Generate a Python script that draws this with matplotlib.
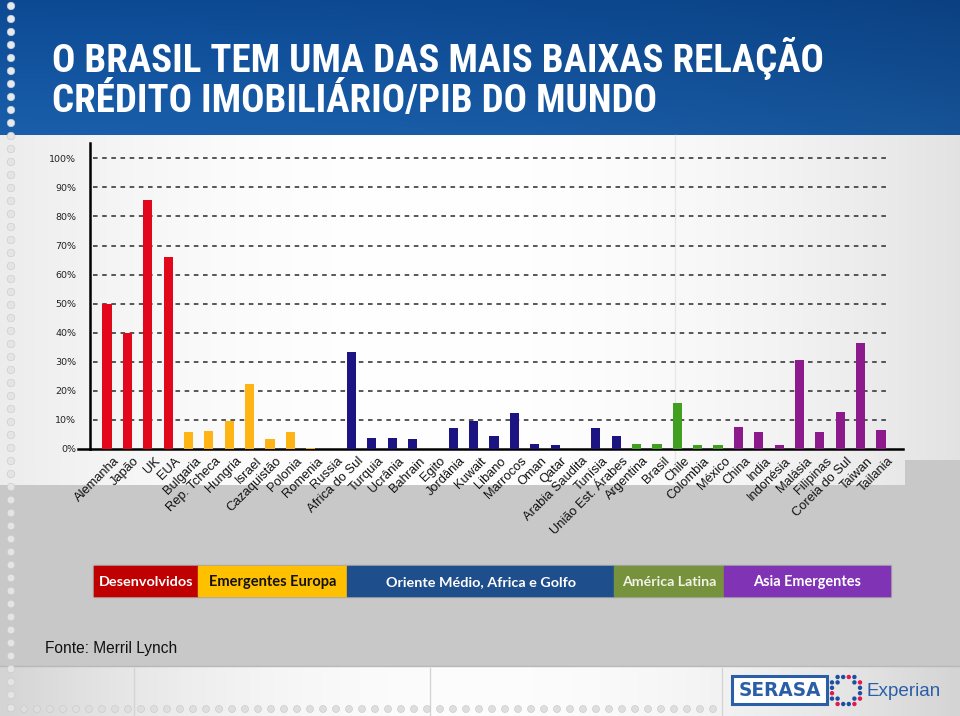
import matplotlib
matplotlib.use('Agg')
import matplotlib.pyplot as plt
import numpy as np
from matplotlib import font_manager, transforms
from matplotlib.patches import Rectangle, Circle

# dados (credito imobiliario / PIB, %)
countries = ['Alemanha', 'Japão', 'UK', 'EUA', 'Bulgaria', 'Rep. Tcheca', 'Hungria', 'Israel',
             'Cazaquistão', 'Polonia', 'Romenia', 'Russia', 'Africa do Sul', 'Turquia', 'Ucrânia',
             'Bahrain', 'Egito', 'Jordânia', 'Kuwait', 'Libano', 'Marrocos', 'Oman', 'Qatar',
             'Arabia Saudita', 'Tunísia', 'União Est. Árabes', 'Argentina', 'Brasil', 'Chile',
             'Colombia', 'México', 'China', 'India', 'Indonésia', 'Malásia', 'Filipinas',
             'Coreia do Sul', 'Taiwan', 'Tailania']
credito_pib = [50, 40, 85.8, 66, 6, 6.3, 9.5, 22.5, 3.5, 6, 0.4, 0, 33.5, 3.8, 3.8, 3.5, 0,
               7.2, 9.8, 4.5, 12.5, 1.7, 1.5, 0, 7.3, 4.3, 1.8, 1.8, 15.7, 1.5, 1.5,
               7.5, 5.8, 1.5, 30.5, 6, 12.8, 36.5, 6.5]
regioes = ['Desenvolvidos', 'Emergentes Europa', 'Oriente Médio, Africa e Golfo',
           'América Latina', 'Asia Emergentes']
paises_por_regiao = [4, 8, 14, 5, 8]
yticks = list(range(0, 101, 10))

bar_colors = ['#e2071b', '#fdb414', '#1c1482', '#41a020', '#8c1a8c']
band_colors = ['#c00000', '#ffc000', '#1f4e8c', '#76923c', '#8033b5']
band_text = ['white', '#111111', 'white', '#f2f2e6', 'white']
band_edges = [94, 198, 347, 614, 724, 890]

fig = plt.figure(figsize=(9.6, 7.16), dpi=100)
bg = fig.add_axes([0, 0, 1, 1])
bg.axis('off')


def cond_font():
    names = {f.name for f in font_manager.fontManager.ttflist}
    if 'Roboto Condensed' in names:
        return dict(family='Roboto Condensed')
    if 'Liberation Sans Narrow' in names:
        return dict(family='Liberation Sans Narrow')
    for f in font_manager.fontManager.ttflist:
        if f.name == 'DejaVu Sans' and f.stretch == 'condensed':
            return dict(family='DejaVu Sans', stretch='condensed')
    return dict(family='Liberation Sans')


def fit(t, w_target):
    r = fig.canvas.get_renderer()
    w = t.get_window_extent(r).width
    t.set_fontsize(t.get_fontsize() * w_target / w)


# ---- fundo do slide ----
bg.add_patch(Rectangle((0, 0), 960, 716, color='#c8c8c8', zorder=0))

xx = np.linspace(0, 1, 200)
yy = np.linspace(0, 1, 60)[:, None]
top = np.array([0.05, 0.29, 0.58])
bot = np.array([0.10, 0.37, 0.67])
head = top + (bot - top) * yy[..., None]
head = head * (1 - 0.12 * xx[None, :, None] ** 2)
bg.imshow(head, extent=(0, 960, 135, 0), aspect='auto', zorder=1)

shade = 1 - 0.11 * ((xx - 0.45) / 0.55) ** 2
panel = np.repeat(shade[None, :, None], 3, axis=2) * np.ones((10, 1, 3))
bg.imshow(panel, extent=(0, 960, 460, 135), aspect='auto', zorder=1)
bg.imshow(panel[:, :189], extent=(0, 905, 485, 460), aspect='auto', zorder=1)
bg.plot([675, 675], [135, 485], color='#e6e6e6', lw=1, zorder=1)

foot = 1 - 0.16 * ((xx - 0.5) / 0.5) ** 2
footimg = np.repeat(foot[None, :, None], 3, axis=2) * np.ones((10, 1, 3)) * 0.99
bg.imshow(footimg, extent=(0, 960, 716, 667), aspect='auto', zorder=1)
bg.plot([0, 960], [666, 666], color='#b8b8b8', lw=1, zorder=2)
for xd in [134, 430, 722]:
    bg.plot([xd, xd], [668, 716], color='#d4d4d4', lw=1, zorder=2)

# pontinhos da lateral e do rodape
for yd in np.arange(6, 712, 13):
    fc = '#e4eaf2' if yd < 135 else '#e4e4e4'
    bg.add_patch(Circle((11, yd), 3.8, facecolor=fc, edgecolor='#c8c8c8', lw=0.4, zorder=3))
for xd in np.arange(24, 722, 13):
    bg.add_patch(Circle((xd, 709), 3.5, facecolor='#dedede', edgecolor='#c6c6c6', lw=0.4, zorder=3))

# ---- titulo ----
tf = cond_font()
t1 = bg.text(52, 72, 'O BRASIL TEM UMA DAS MAIS BAIXAS RELAÇÃO', color='white',
             fontweight='bold', fontsize=30, va='baseline', ha='left', zorder=5, **tf)
t2 = bg.text(52, 112, 'CRÉDITO IMOBILIÁRIO/PIB DO MUNDO', color='white',
             fontweight='bold', fontsize=30, va='baseline', ha='left', zorder=5, **tf)
fit(t1, 771)
t2.set_fontsize(t1.get_fontsize())

# ---- grafico ----
x0_px, x1_px, y0_px, ytop_px = 90, 903, 449, 143
ax = fig.add_axes([x0_px / 960, (716 - y0_px) / 716, (x1_px - x0_px) / 960, (y0_px - ytop_px) / 716])
ax.patch.set_alpha(0)
step = (881 - 107) / 38
ax.set_xlim(-(107 - x0_px) / step, 38 + (x1_px - 881) / step)
ax.set_ylim(0, 100 * (y0_px - ytop_px) / (y0_px - 158.3))

colors = []
for c, n in zip(bar_colors, paises_por_regiao):
    colors += [c] * n
x = np.arange(len(countries))
ax.bar(x, credito_pib, width=0.45, color=colors, zorder=3)

ax.hlines(yticks[1:], ax.get_xlim()[0] + 3 / step, (890 - 107) / step,
          colors='#2a2a2a', linestyles=(0, (3, 3)), lw=1.1, zorder=2)

for s in ['top', 'right']:
    ax.spines[s].set_visible(False)
ax.spines['left'].set_linewidth(1.8)
ax.spines['bottom'].set_linewidth(1.8)
ax.set_yticks(yticks)
ax.set_yticklabels([f'{v}%' for v in yticks], fontsize=6.8, color='#222222',
                   family='DejaVu Sans')
ax.tick_params(axis='y', length=0, pad=10)
ax.set_xticks([])
bg.plot([78, 90], [449, 449], color='black', lw=1.8, zorder=4)

lab_tr = transforms.offset_copy(ax.get_xaxis_transform(), fig=fig, x=6, y=-6, units='dots')
for xi, name in zip(x, countries):
    ax.text(xi, 0, name, transform=lab_tr, rotation=45, rotation_mode='anchor',
            ha='right', va='top', fontsize=9.3, family='Liberation Sans', color='#111111',
            clip_on=False)

# ---- faixa das regioes ----
bg.add_patch(Rectangle((band_edges[0] - 1, 565), band_edges[-1] - band_edges[0] + 2, 32,
                       facecolor='none', edgecolor='#a8a8a8', lw=1, zorder=4))
band_w = [95, 127, 191, 94, 108]
for i, reg in enumerate(regioes):
    xa, xb = band_edges[i], band_edges[i + 1]
    bg.add_patch(Rectangle((xa, 566), xb - xa, 30, color=band_colors[i], zorder=5))
    t = bg.text((xa + xb) / 2, 582, reg, ha='center', va='center', color=band_text[i],
                fontweight='bold', fontsize=10, family='Lato', zorder=6)
    fit(t, band_w[i])

bg.text(45, 648, 'Fonte: Merril Lynch', fontsize=11.2, family='Liberation Sans',
        color='#111111', va='center', ha='left', zorder=6)

# ---- logo ----
blue = '#2a5fa8'
bg.add_patch(Rectangle((732, 676), 95, 28, facecolor='white', edgecolor=blue, lw=2.2, zorder=6))
ts = bg.text(779.5, 691, 'SERASA', ha='center', va='center', color=blue, fontweight='bold',
             fontsize=13, family='DejaVu Sans', zorder=7)
fit(ts, 82)
pts = [0, 1, 2, 3, 4, 5]
for i in pts:
    for j in pts:
        if i in (0, 5) or j in (0, 5) or (i in (1, 4) and j in (1, 4)):
            if (i, j) in [(0, 0), (5, 5), (0, 5), (5, 0)]:
                continue
            red = (i + j) % 3 == 0
            bg.add_patch(Circle((832 + i * 5.6, 677 + j * 5.4), 1.5,
                                color='#e0194e' if red else '#1d4fa0', zorder=7))
te = bg.text(866, 692, 'Experian', ha='left', va='center', color=blue, fontsize=16,
             family='Liberation Sans', zorder=7)
fit(te, 75)

bg.set_xlim(0, 960)
bg.set_ylim(716, 0)
fig.savefig('out.png', dpi=100)
